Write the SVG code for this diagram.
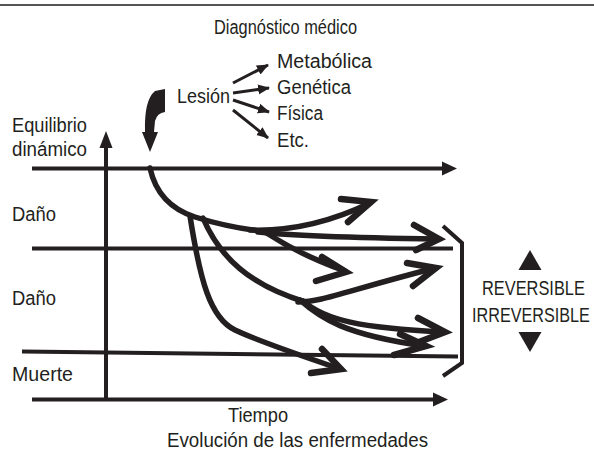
<svg xmlns="http://www.w3.org/2000/svg" width="594" height="452" viewBox="0 0 594 452">
<style>
text{font-family:"Liberation Sans",Arial,sans-serif;font-size:20px;fill:#231f20}
.ax{stroke:#231f20;stroke-width:4;fill:none}
.cv{stroke:#231f20;stroke-width:5.5;fill:none;stroke-linecap:round;stroke-linejoin:round}
.hd{stroke:#231f20;stroke-width:6.5;fill:none;stroke-linecap:round;stroke-linejoin:miter}
.sm{stroke:#231f20;stroke-width:3;fill:none}
.fl{fill:#231f20}
</style>
<defs>
<marker id="ah" markerUnits="userSpaceOnUse" markerWidth="12" markerHeight="12" viewBox="0 0 12 12" refX="11" refY="6" orient="auto">
<path d="M0,1 L12,6 L0,11 Z" fill="#231f20"/>
</marker>
</defs>
<rect width="594" height="452" fill="#fff"/>
<line x1="0" y1="5" x2="594" y2="5" stroke="#555" stroke-width="2"/>
<text id="title" x="214" y="34" textLength="143" lengthAdjust="spacingAndGlyphs">Diagnóstico médico</text>

<g id="axes">
<line class="ax" x1="106" y1="398" x2="106" y2="145"/>
<polygon class="fl" points="106,131 99.5,148 112.5,148"/>
<line class="ax" x1="32" y1="168.5" x2="444" y2="168.5"/>
<polygon class="fl" points="457,168.5 442,161.5 442,175.5"/>
<line class="ax" x1="32" y1="248.5" x2="453" y2="248.5"/>
<line class="ax" x1="22" y1="351.5" x2="458" y2="356.5"/>
<line class="ax" x1="32" y1="399.5" x2="435" y2="399.5"/>
<polygon class="fl" points="448,399.5 433,392.5 433,406.5"/>
</g>

<g id="labels-left">
<text x="12" y="132" textLength="75" lengthAdjust="spacingAndGlyphs">Equilibrio</text>
<text x="12" y="156" textLength="75" lengthAdjust="spacingAndGlyphs">dinámico</text>
<text x="12" y="221" textLength="44" lengthAdjust="spacingAndGlyphs">Daño</text>
<text x="12" y="305" textLength="44" lengthAdjust="spacingAndGlyphs">Daño</text>
<text x="12" y="381" textLength="61" lengthAdjust="spacingAndGlyphs">Muerte</text>
</g>

<g id="bottom-labels">
<text x="228" y="422" textLength="60" lengthAdjust="spacingAndGlyphs">Tiempo</text>
<text x="167" y="447" textLength="261" lengthAdjust="spacingAndGlyphs">Evolución de las enfermedades</text>
</g>

<g id="lesion">
<path class="fl" d="M165,89 L165,112 Q157,113 155,121 L154,132 L158,132 L150,152 L142,132 L145,132 Q144,100 155,91 Z"/>
<text x="177" y="103" textLength="53" lengthAdjust="spacingAndGlyphs">Lesión</text>
<g class="sm">
<line x1="233" y1="83" x2="268" y2="65" marker-end="url(#ah)"/>
<line x1="233" y1="93" x2="269" y2="88" marker-end="url(#ah)"/>
<line x1="233" y1="100" x2="269" y2="112" marker-end="url(#ah)"/>
<line x1="233" y1="110" x2="268" y2="138" marker-end="url(#ah)"/>
</g>
<text x="277" y="68" textLength="95" lengthAdjust="spacingAndGlyphs">Metabólica</text>
<text x="277" y="94" textLength="74" lengthAdjust="spacingAndGlyphs">Genética</text>
<text x="277" y="120" textLength="46" lengthAdjust="spacingAndGlyphs">Física</text>
<text x="277" y="147" textLength="32" lengthAdjust="spacingAndGlyphs">Etc.</text>
</g>

<g id="connectors">
<path class="cv" d="M150,168 Q158,205 195,217 Q230,228 268,232"/>
<path class="cv" d="M250,230 Q310,232 370,203"/>
<path class="hd" d="M341,199 L371,202 L348,222"/>
<path class="cv" d="M258,232 Q300,237 438,239"/>
<path class="hd" d="M414,225 L439,239 L416,250"/>
<path class="cv" d="M265,232 Q300,255 345,271"/>
<path class="hd" d="M322,257 L346,272 L316,281"/>
<path class="cv" d="M203,218 C220,258 250,285 305,302"/>
<path class="cv" d="M298,302 C322,302 342,292 435,268"/>
<path class="hd" d="M407,263 L436,268 L413,286"/>
<path class="cv" d="M303,301 C325,320 360,328 444,332"/>
<path class="hd" d="M418,318 L445,332 L419,342"/>
<path class="cv" d="M300,300 C320,318 345,335 425,346"/>
<path class="hd" d="M400,334 L426,346 L394,355"/>
<path class="cv" d="M190,216 C200,280 210,318 235,330 C260,342 300,355 340,369"/>
<path class="hd" d="M322,349 L341,369 L311,373"/>
</g>

<g id="bracket">
<path class="ax" d="M443,226 L462,243 L462,363 L443,376" stroke-linejoin="miter"/>
</g>

<g id="legend">
<polygon class="fl" points="530,250 518.5,270 541.5,270"/>
<text transform="translate(482,295) scale(0.82,1)" x="0" y="0">REVERSIBLE</text>
<text transform="translate(472,322) scale(0.81,1)" x="0" y="0">IRREVERSIBLE</text>
<polygon class="fl" points="518.5,332 541.5,332 530,352"/>
</g>
</svg>
